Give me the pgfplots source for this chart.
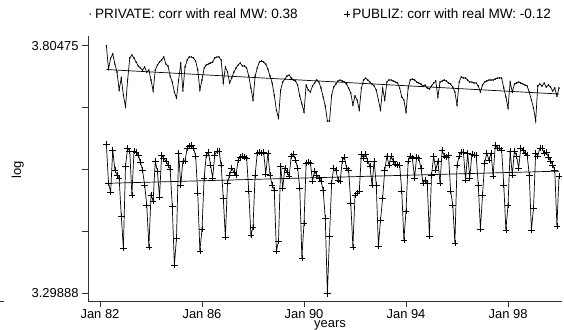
\documentclass[border=0pt]{standalone}
\usepackage{pgfplots}
\pgfplotsset{compat=1.18}
\usepackage{pgfplotstable}
\usepackage{fontspec}
\setmainfont{Liberation Sans}

% monthly log wages, t = months since Jan 1982
\pgfplotstableread{
t p q
3 3.80475 3.6025
4 3.7571 3.5242
5 3.7796 3.5059
6 3.7878 3.5917
7 3.7674 3.5508
8 3.7510 3.5406
9 3.7142 3.5345
10 3.7387 3.4568
11 3.7040 3.3914
12 3.6801 3.5590
13 3.7347 3.5957
14 3.7796 3.5896
15 3.7857 3.4997
16 3.7796 3.5896
17 3.7714 3.5876
18 3.7633 3.5814
19 3.7592 3.5671
20 3.7551 3.5508
21 3.7612 3.5202
22 3.7510 3.4793
23 3.7551 3.3935
24 3.7347 3.4997
25 3.7122 3.4875
26 3.7551 3.5692
27 3.7653 3.5488
28 3.7714 3.4956
29 3.7755 3.5814
30 3.7817 3.5753
31 3.7674 3.5692
32 3.7633 3.5610
33 3.7428 3.5528
34 3.7306 3.4773
35 3.7101 3.3567
36 3.6979 3.4119
37 3.7347 3.5855
38 3.7694 3.5202
39 3.7122 3.5692
40 3.7612 3.5692
41 3.7755 3.5957
42 3.7817 3.5998
43 3.7817 3.6019
44 3.7796 3.5957
45 3.7735 3.5794
46 3.7551 3.5038
47 3.7142 3.3853
48 3.7347 3.4303
49 3.7592 3.5345
50 3.7653 3.5814
51 3.7674 3.5876
52 3.7694 3.5610
53 3.7714 3.5345
54 3.7796 3.5814
55 3.7817 3.5896
56 3.7817 3.5896
57 3.7755 3.5610
58 3.7285 3.4936
59 3.7612 3.4139
60 3.7510 3.5242
61 3.7285 3.5406
62 3.7387 3.5549
63 3.7510 3.5467
64 3.7592 3.5406
65 3.7653 3.5712
66 3.7694 3.5774
67 3.7633 3.5794
68 3.7633 3.5774
69 3.7592 3.5753
70 3.7428 3.5079
71 3.7183 3.4180
72 3.6938 3.4344
73 3.7428 3.5406
74 3.7592 3.5855
75 3.7714 3.5876
76 3.7735 3.5855
77 3.7714 3.5876
78 3.7674 3.5426
79 3.7571 3.5855
80 3.7428 3.5406
81 3.7285 3.5202
82 3.7040 3.5099
83 3.6734 3.3853
84 3.6570 3.4057
85 3.7142 3.5590
86 3.7306 3.5140
87 3.7367 3.5549
88 3.7428 3.5467
89 3.7449 3.5385
90 3.7387 3.5794
91 3.7347 3.5835
92 3.7326 3.5712
93 3.7244 3.5549
94 3.7020 3.5140
95 3.6856 3.3710
96 3.6693 3.4425
97 3.7244 3.5651
98 3.7142 3.5671
99 3.7101 3.5651
100 3.7224 3.5283
101 3.7285 3.5488
102 3.7347 3.5406
103 3.7306 3.5345
104 3.7183 3.5283
105 3.6999 3.5099
106 3.6815 3.4527
107 3.6509 3.29888
108 3.6509 3.4160
109 3.7040 3.5242
110 3.7204 3.5549
111 3.7265 3.5508
112 3.7326 3.5304
113 3.7347 3.5283
114 3.7326 3.5692
115 3.7306 3.5774
116 3.7265 3.5549
117 3.7183 3.5508
118 3.7081 3.4834
119 3.6836 3.3935
120 3.7020 3.4997
121 3.6938 3.5038
122 3.6734 3.5079
123 3.7183 3.5835
124 3.7347 3.5753
125 3.7387 3.5835
126 3.7347 3.5692
127 3.7306 3.5590
128 3.7265 3.5202
129 3.7224 3.5692
130 3.7142 3.5202
131 3.6938 3.3955
132 3.6734 3.4486
133 3.7183 3.4936
134 3.6938 3.5508
135 3.7306 3.5794
136 3.7347 3.5610
137 3.7347 3.5794
138 3.7326 3.5692
139 3.7306 3.5631
140 3.7285 3.5610
141 3.7183 3.5610
142 3.6999 3.5079
143 3.6938 3.4078
144 3.6693 3.4671
145 3.7183 3.5692
146 3.7347 3.5794
147 3.7367 3.5753
148 3.7347 3.5345
149 3.7306 3.5774
150 3.7285 3.5753
151 3.7265 3.5549
152 3.7224 3.5242
153 3.7244 3.5304
154 3.7183 3.5242
155 3.7163 3.4160
156 3.7224 3.5406
157 3.7285 3.5794
158 3.7326 3.5508
159 3.6999 3.5692
160 3.7306 3.5242
161 3.7326 3.5917
162 3.7347 3.5794
163 3.7326 3.5774
164 3.7285 3.5814
165 3.7265 3.5079
166 3.7204 3.4793
167 3.7101 3.4016
168 3.6836 3.5610
169 3.7306 3.5794
170 3.7408 3.5876
171 3.7387 3.5876
172 3.7387 3.5304
173 3.7347 3.5855
174 3.7306 3.5345
175 3.7306 3.5835
176 3.7285 3.5814
177 3.7285 3.5814
178 3.7224 3.5202
179 3.7101 3.4303
180 3.7244 3.4997
181 3.7306 3.5651
182 3.7326 3.5855
183 3.7347 3.5712
184 3.7347 3.5855
185 3.7347 3.5385
186 3.7367 3.6019
187 3.7387 3.5957
188 3.7387 3.5957
189 3.7387 3.5917
190 3.7183 3.5202
191 3.6999 3.4282
192 3.6775 3.4793
193 3.7306 3.5896
194 3.7101 3.5406
195 3.7265 3.5896
196 3.7285 3.5794
197 3.7306 3.5549
198 3.7285 3.5957
199 3.7265 3.5917
200 3.7244 3.5855
201 3.7224 3.5814
202 3.7101 3.5406
203 3.6938 3.4282
204 3.6775 3.4732
205 3.6509 3.5855
206 3.7224 3.5794
207 3.7265 3.5957
208 3.7224 3.5957
209 3.7285 3.5855
210 3.7204 3.5876
211 3.7244 3.5774
212 3.7204 3.5692
213 3.7122 3.5610
214 3.7183 3.5508
215 3.7020 3.4364
216 3.7183 3.5385
}\wagedata

\begin{document}
\begin{tikzpicture}
\useasboundingbox (-88bp,-29bp) rectangle (476bp,301bp);
\begin{axis}[
  at={(0,0)}, anchor=south west,
  scale only axis, width=474bp, height=265bp,
  xmin=-5.65, xmax=217.4, ymin=3.2832, ymax=3.8246,
  axis x line=bottom, axis y line=left,
  axis line style={-, line width=0.8bp, black!80},
  tick align=outside, major tick length=6bp,
  tick style={line width=0.8bp, black!80},
  xtick={0,48,96,144,192},
  xticklabels={Jan 82,Jan 86,Jan 90,Jan 94,Jan 98},
  ytick={3.29888,3.42535,3.55182,3.67828,3.80475},
  yticklabels={3.29888,,,,3.80475},
  /pgf/number format/assume math mode=true,
  ticklabel style={font=\fontsize{13}{14}\selectfont},
  xticklabel style={yshift=1.5bp},
  xlabel={years}, ylabel={log},
  label style={font=\fontsize{13}{14}\selectfont},
  xlabel style={at={(rel axis cs:0.5105,-0.0985)}, anchor=base},
  ylabel style={at={(rel axis cs:-0.1483,0.494)}, anchor=center},
  legend image code/.code={\draw[#1] plot coordinates {(3bp,0bp)};
    \path[draw=none] (0bp,0bp) (6bp,0bp);},
  legend style={legend columns=2, draw=none, fill=none,
    at={(rel axis cs:-0.0084,1.083)}, anchor=west,
    font=\fontsize{13.6}{14}\selectfont,
    /tikz/every even column/.append style={column sep=44bp}},
]
\addlegendimage{only marks, mark=*, mark size=0.5bp, black}
\addlegendentry{PRIVATE: corr with real MW: 0.38}
\addlegendimage{only marks, mark=+, mark size=3.3bp, line width=0.6bp, black}
\addlegendentry{PUBLIZ: corr with real MW: -0.12}

\addplot[forget plot, black, line width=0.7bp, mark=*, mark size=0.35bp] table[x=t, y=p] {\wagedata};
\addplot[forget plot, black, line width=0.7bp, mark=+, mark size=3.3bp, mark options={line width=0.6bp}] table[x=t, y=q] {\wagedata};
% linear trends
\addplot[forget plot, black, line width=0.7bp] coordinates {(3,3.7561) (216,3.7061)};
\addplot[forget plot, black, line width=0.7bp] coordinates {(3,3.5236) (216,3.5485)};
\end{axis}
\draw[line width=0.8bp, black!80] (-88bp,0bp) -- (-84bp,0bp);
\end{tikzpicture}
\end{document}
